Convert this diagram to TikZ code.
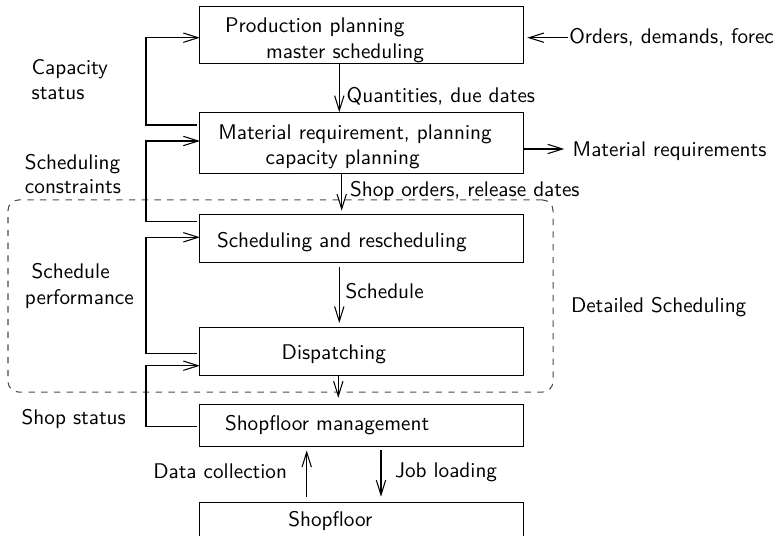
\documentclass[tikz,border=0pt]{standalone}
\usetikzlibrary{arrows.meta}
\begin{document}
\begin{tikzpicture}[x=0.4717pt,y=-0.4717pt,font=\sffamily,
  box/.style={draw,line width=0.5pt,inner sep=0pt,outer sep=0pt,minimum width=152.4pt},
  arr/.style={-{Straight Barb[length=7pt,width=4.4pt]},line width=0.5pt},
  ln/.style={line width=0.5pt},
  lbl/.style={anchor=base west,inner sep=0pt,outer sep=0pt},
  region/.style={draw=black!70,dashed,line width=0.5pt,rounded corners=5pt,inner sep=0pt,minimum width=257.1pt,minimum height=90.6pt}]
\useasboundingbox (0,0) rectangle (775,536);
% dashed region
\node[region] (det) at (280.5,296) {};
% boxes
\node[box,minimum height=26.9pt] (b1) at (361.5,34.6) {};
\node[box,minimum height=28.8pt] (b2) at (361.5,142.8) {};
\node[box,minimum height=22.6pt] (b3) at (361.5,238.9) {};
\node[box,minimum height=22.6pt] (b4) at (361.5,351.3) {};
\node[box,minimum height=19.8pt] (b5) at (361.5,425.2) {};
\node[box,minimum height=22.6pt] (b6) at (361.5,526) {};
% box texts
\node[lbl] (t1a) at (225,32.3) {Production planning};
\node[lbl] (t1b) at (266,58.3) {master scheduling};
\node[lbl] (t2a) at (218.3,139.3) {Material requirement, planning};
\node[lbl] (t2b) at (265.7,165) {capacity planning};
\node[lbl] (t3) at (217,247.3) {Scheduling and rescheduling};
\node[lbl] (t4) at (281.7,359.3) {Dispatching};
\node[lbl] (t5) at (225,430.7) {Shopfloor management};
\node[lbl] (t6) at (288.3,526.7) {Shopfloor};
% side labels
\node[lbl] (cs1) at (31.7,75) {Capacity};
\node[lbl] (cs2) at (31.7,99.3) {status};
\node[lbl] (sc1) at (25,170) {Scheduling};
\node[lbl] (sc2) at (25,193.3) {constraints};
\node[lbl] (sp1) at (31.7,278.3) {Schedule};
\node[lbl] (sp2) at (25,304.3) {performance};
\node[lbl] (ss) at (21.7,425) {Shop status};
\node[lbl] (ds) at (571,312.3) {Detailed Scheduling};
% flow labels
\node[lbl] (q) at (346.7,102.7) {Quantities, due dates};
\node[lbl] (so) at (350,197) {Shop orders, release dates};
\node[lbl] (sch) at (345.7,299) {Schedule};
\node[lbl] (dc) at (153.3,479) {Data collection};
\node[lbl] (jl) at (395,478) {Job loading};
\node[lbl] (ord) at (569.3,43.3) {Orders, demands, forecasts};
\node[lbl] (mr) at (572.7,156.7) {Material requirements};
% vertical arrows
\draw[arr] (b1.south -| 339.3,0) -- (b2.north -| 339.3,0);
\draw[arr,shorten >=2pt] (b2.south -| 341.7,0) -- (b3.north -| 341.7,0);
\draw[arr,shorten <=2pt,shorten >=2pt] (b3.south -| 339.3,0) -- (b4.north -| 339.3,0);
\draw[arr,shorten >=3pt] (b4.south -| 338.3,0) -- (b5.north -| 338.3,0);
\draw[arr,shorten <=2.5pt,shorten >=2pt] (b6.north -| 306.7,0) -- (b5.south -| 306.7,0);
\draw[arr,shorten <=2pt,shorten >=2.5pt] (b5.south -| 381,0) -- (b6.north -| 381,0);
% side arrows
\draw[arr,shorten >=2pt] (ord.west |- 0,37.7) ++(-1,0) -- (b1.east |- 0,37.7);
\draw[arr] (b2.east |- 0,149) -- (564.3,149) coordinate (mrend);
% feedback loops
\draw[arr,shorten <=1.5pt] (b2.west |- 0,125) -- (146,125) -- (146,37.7) -- (b1.west |- 0,37.7);
\draw[arr,shorten <=1.5pt] (b3.west |- 0,221.7) -- (146,221.7) -- (146,141) -- (b2.west |- 0,141);
\draw[arr,shorten <=1.5pt] (b4.west |- 0,353.3) -- (146,353.3) -- (146,237.3) -- (b3.west |- 0,237.3);
\draw[arr,shorten <=1.5pt] (b5.west |- 0,426.7) -- (146,426.7) -- (146,365.7) -- (b4.west |- 0,365.7);
\end{tikzpicture}
\end{document}
